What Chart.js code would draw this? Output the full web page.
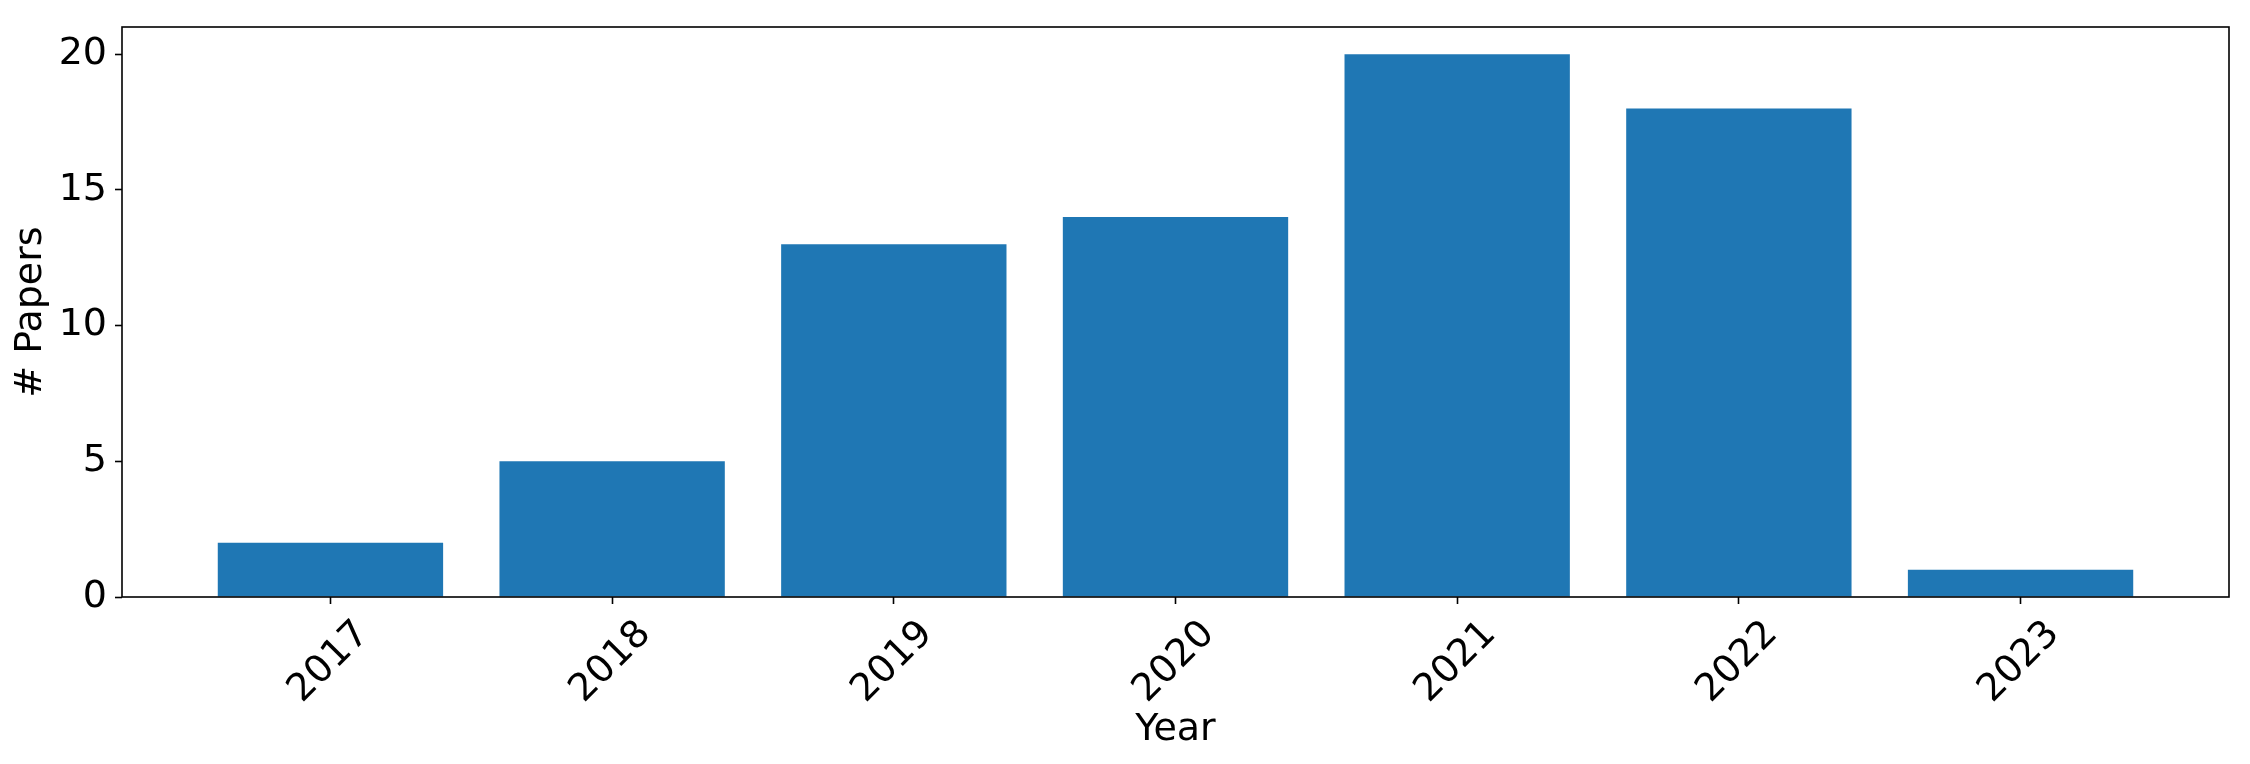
<!DOCTYPE html>
<html>
<head>
<meta charset="utf-8">
<script src="https://cdn.jsdelivr.net/npm/chart.js@4.4.1/dist/chart.umd.min.js"></script>
<style>
  html, body { margin: 0; padding: 0; background: #ffffff; }
  #wrap { width: 2250px; height: 764px; }
</style>
</head>
<body>
<div id="wrap"><canvas id="c" width="2250" height="764" style="width:2250px;height:764px"></canvas></div>
<script>
const categories = ['2017', '2018', '2019', '2020', '2021', '2022', '2023'];
const paperCounts = [2, 5, 13, 14, 20, 18, 1];
const yTickValues = [0, 5, 10, 15, 20];
const xTitle = 'Year';
const yTitle = '# Papers';

const FONT = 'DejaVu Sans';
Chart.defaults.color = '#000000';
Chart.defaults.font.family = FONT;

const framePlugin = {
  id: 'frame',
  afterDatasetsDraw(chart) {
    const {ctx, chartArea: a} = chart;
    ctx.save();
    ctx.strokeStyle = '#000000';
    ctx.lineWidth = 1.6;
    ctx.strokeRect(a.left, a.top, a.right - a.left, a.bottom - a.top);
    ctx.restore();
  }
};

new Chart(document.getElementById('c'), {
  type: 'bar',
  data: {
    datasets: [{
      data: paperCounts.map((v, i) => ({x: i, y: v})),
      backgroundColor: '#1f77b4',
      borderWidth: 0,
      categoryPercentage: 1.0,
      barPercentage: 0.8
    }]
  },
  options: {
    responsive: false,
    animation: false,
    layout: { padding: { left: 0, right: 21, top: 27, bottom: 0 } },
    plugins: { legend: { display: false }, tooltip: { enabled: false } },
    scales: {
      x: {
        type: 'linear',
        min: -0.74,
        max: 6.74,
        offset: false,
        afterBuildTicks(scale) { scale.ticks = categories.map((_, i) => ({ value: i })); },
        afterFit(scale) { scale.height = 167; scale.paddingLeft = 0; scale.paddingRight = 0; },
        border: { display: false },
        grid: { display: true, offset: false, drawOnChartArea: false, drawTicks: true, tickLength: 7, tickColor: '#000000', tickWidth: 1.6 },
        ticks: {
          autoSkip: false,
          minRotation: 45,
          maxRotation: 45,
          padding: 8,
          labelOffset: 33,
          font: { family: FONT, size: 38 },
          color: '#000000',
          callback: (v) => categories[v] ?? ''
        },
        title: { display: true, text: xTitle, font: { family: FONT, size: 38 }, color: '#000000', padding: { top: 0, bottom: 11 } }
      },
      y: {
        type: 'linear',
        min: 0,
        max: 21,
        afterBuildTicks(scale) { scale.ticks = yTickValues.map(v => ({ value: v })); },
        afterFit(scale) { scale.width = 122; scale.paddingTop = 0; scale.paddingBottom = 0; },
        border: { display: false },
        grid: { display: true, offset: false, drawOnChartArea: false, drawTicks: true, tickLength: 7, tickColor: '#000000', tickWidth: 1.6 },
        ticks: {
          padding: 8,
          font: { family: FONT, size: 38 },
          color: '#000000'
        },
        title: { display: true, text: yTitle, font: { family: FONT, size: 38 }, color: '#000000', padding: { top: 8, bottom: 0 } }
      }
    }
  },
  plugins: [framePlugin]
});
</script>
</body>
</html>
